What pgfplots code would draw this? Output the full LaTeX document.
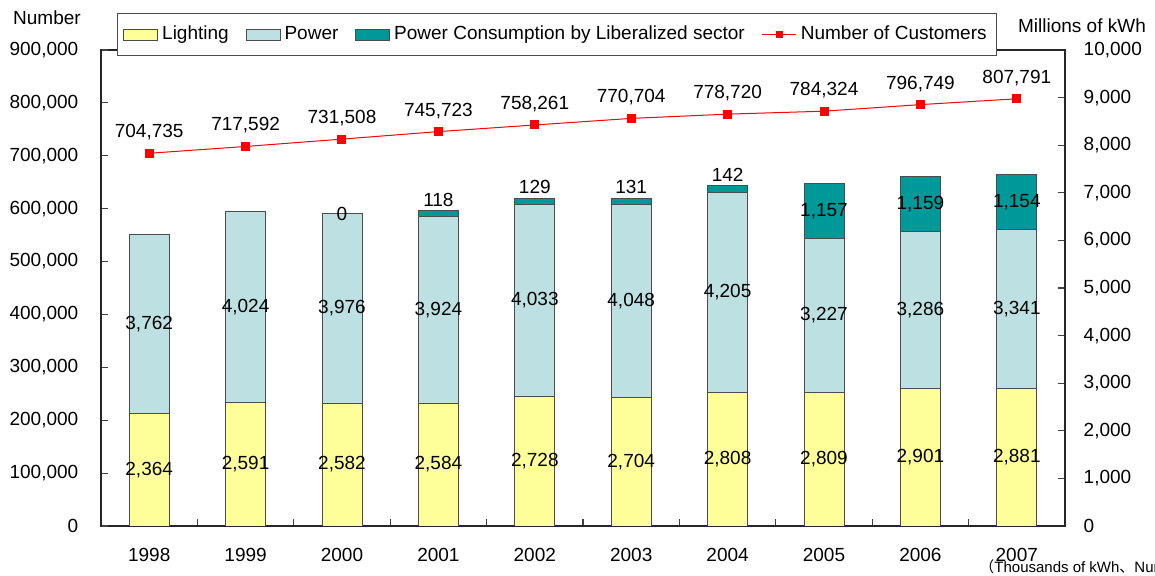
\documentclass[border=0pt]{standalone}
\usepackage{fontspec}
\setmainfont{Liberation Sans}
\newfontfamily\cjk{Noto Sans CJK JP}
\usepackage{pgfplots}
\pgfplotsset{compat=1.18}
\definecolor{light}{HTML}{FFFF99}
\definecolor{pow}{HTML}{BDE0E3}
\definecolor{lib}{HTML}{009999}
\pgfplotsset{
  common/.style={
    width=482pt, height=238pt, scale only axis,
    xmin=-0.5, xmax=9.5,
    /pgf/number format/fixed,
    /pgf/number format/precision=0,
    /pgf/number format/1000 sep={,},
    /pgf/number format/assume math mode=true,
    scaled y ticks=false,
    axis line style={black!85, line width=0.8pt},
    tick style={black!75, line width=0.6pt},
    major tick length=3.5pt,
  },
  barleg/.style={legend image code/.code={\draw[##1] (0pt,-2.75pt) rectangle (17pt,2.75pt);}},
  lineleg/.style={legend image code/.code={\draw[##1, mark repeat=2, mark phase=2] plot coordinates {(0pt,0pt) (8.5pt,0pt) (17pt,0pt)};}},
}
\begin{document}
\fontsize{9.5}{11}\selectfont
\begin{tikzpicture}
% bars (right scale)
\begin{axis}[common, ymin=0, ymax=10000, ybar stacked, bar width=20pt,
  ytick={0,1000,...,10000}, ytick pos=right, yticklabel pos=right,
  xtick={0.5,1.5,...,8.5}, xticklabels={}, xtick pos=bottom,
  extra x ticks={0,1,2,3,4,5,6,7,8,9},
  extra x tick labels={1998,1999,2000,2001,2002,2003,2004,2005,2006,2007},
  extra x tick style={major tick length=0pt},
  xticklabel style={yshift=-8pt},
  yticklabel style={xshift=6pt},
]
\addplot[fill=light, draw=black!70] coordinates {(0,2364) (1,2591) (2,2582) (3,2584) (4,2728) (5,2704) (6,2808) (7,2809) (8,2901) (9,2881)};
\addplot[fill=pow, draw=black!70] coordinates {(0,3762) (1,4024) (2,3976) (3,3924) (4,4033) (5,4048) (6,4205) (7,3227) (8,3286) (9,3341)};
\addplot[fill=lib, draw=black!70] coordinates {(0,0) (1,0) (2,0) (3,118) (4,129) (5,131) (6,142) (7,1157) (8,1159) (9,1154)};
\end{axis}
% bar value labels
\begin{axis}[common, ymin=0, ymax=10000, hide axis]
\addplot[draw=none, mark=none, point meta=explicit, nodes near coords,
  every node near coord/.append style={anchor=center, black}] coordinates {
  (0,1182)[2364] (1,1295.5)[2591] (2,1291)[2582] (3,1292)[2584] (4,1364)[2728]
  (5,1352)[2704] (6,1404)[2808] (7,1404.5)[2809] (8,1450.5)[2901] (9,1440.5)[2881]};
\addplot[draw=none, mark=none, point meta=explicit, nodes near coords,
  every node near coord/.append style={anchor=center, black}] coordinates {
  (0,4245)[3762] (1,4603)[4024] (2,4570)[3976] (3,4546)[3924] (4,4744.5)[4033]
  (5,4728)[4048] (6,4910.5)[4205] (7,4422.5)[3227] (8,4544)[3286] (9,4551.5)[3341]};
\addplot[draw=none, mark=none, point meta=explicit, nodes near coords,
  every node near coord/.append style={anchor=center, black}] coordinates {
  (2,6558)[0] (7,6614.5)[1157] (8,6766.5)[1159] (9,6799)[1154]};
\addplot[draw=none, mark=none, point meta=explicit, nodes near coords,
  every node near coord/.append style={anchor=center, black, yshift=5.5pt}] coordinates {
  (3,6626)[118] (4,6890)[129] (5,6883)[131] (6,7155)[142]};
\end{axis}
% customers (left scale)
\begin{axis}[common, ymin=0, ymax=900000, ytick={0,100000,...,900000},
  ytick pos=left, hide x axis,
  yticklabel style={xshift=-8pt},
  legend style={at={(0.0166,0.987)}, anchor=south west, draw=black!70,
    legend columns=4, inner xsep=3pt, inner ysep=4.5pt,
    /tikz/every even column/.append style={column sep=6.5pt}},
  legend cell align=left,
]
\addlegendimage{barleg, fill=light, draw=black!70}
\addlegendimage{barleg, fill=pow, draw=black!70}
\addlegendimage{barleg, fill=lib, draw=black!70}
\addlegendimage{lineleg, red, line width=0.5pt, mark=square*, mark size=1.5pt}
\addplot[red, line width=0.5pt, mark=square*, mark size=2pt, forget plot,
  point meta=explicit, nodes near coords,
  every node near coord/.append style={anchor=center, black, yshift=10.5pt}]
  coordinates {(0,704735)[704735] (1,717592)[717592] (2,731508)[731508] (3,745723)[745723] (4,758261)[758261] (5,770704)[770704] (6,778720)[778720] (7,784324)[784324] (8,796749)[796749] (9,807791)[807791]};
\legend{Lighting, Power, Power Consumption by Liberalized sector, Number of Customers}
\end{axis}
\node at (-27pt,254pt) {Number};
\node at (490.5pt,250pt) {Millions of kWh};
\node[anchor=base west, inner sep=0pt, font=\fontsize{7.5}{9}\selectfont] at (439pt,-23.5pt) {{\cjk （}Thousands of kWh{\cjk 、}Number{\cjk ）}};
\pgfresetboundingbox
\path[use as bounding box] (-50.5pt,-25pt) rectangle (527pt,263pt);
\end{tikzpicture}
\end{document}
